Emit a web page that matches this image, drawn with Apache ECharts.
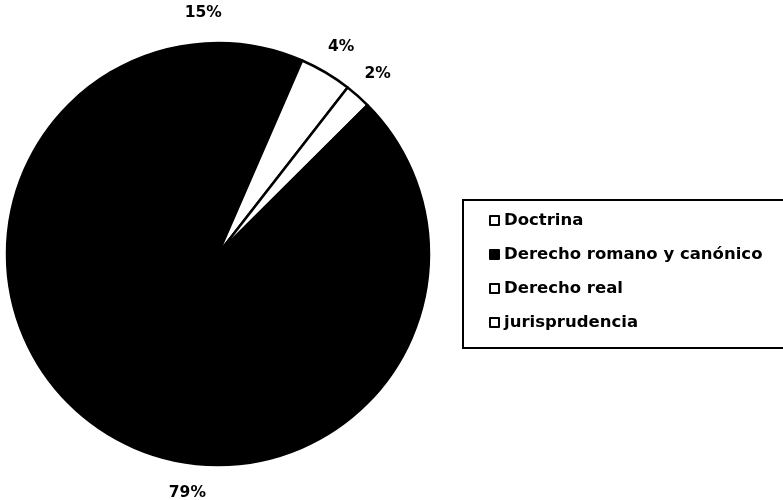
<!DOCTYPE html>
<html>
<head>
<meta charset="utf-8">
<script src="https://cdn.jsdelivr.net/npm/echarts@6/dist/echarts.min.js"></script>
<style>
  html, body { margin: 0; padding: 0; background: #fff; }
  #chart { width: 783px; height: 500px; }
</style>
</head>
<body>
<div id="chart"></div>
<script>
// Slices in clockwise drawing order
const sliceNames = ['Doctrina', 'Derecho real', 'jurisprudencia', 'Derecho romano y canónico'];
const sliceValues = [15, 4, 2, 79];
const sliceColors = ['#000000', '#ffffff', '#ffffff', '#000000'];
// Legend order and icon fills as shown in the legend box
const legendNames = ['Doctrina', 'Derecho romano y canónico', 'Derecho real', 'jurisprudencia'];
const legendFills = ['#ffffff', '#000000', '#ffffff', '#ffffff'];

const pieData = sliceNames.map((n, i) => ({
  name: n, value: sliceValues[i],
  itemStyle: { color: sliceColors[i] }
}));
const labelData = sliceNames.map((n, i) => ({ name: n, value: sliceValues[i] }));

const chart = echarts.init(document.getElementById('chart'), null, { renderer: 'canvas' });
chart.setOption({
  animation: false,
  backgroundColor: '#ffffff',
  legend: {
    orient: 'vertical',
    left: 463,
    top: 200,
    padding: [12, 60, 17, 26],
    borderColor: '#000',
    borderWidth: 2,
    itemWidth: 9,
    itemHeight: 9,
    itemGap: 17,
    icon: 'rect',
    selectedMode: false,
    textStyle: {
      fontFamily: 'DejaVu Sans',
      fontWeight: 'bold',
      fontSize: 16.5,
      lineHeight: 16,
      color: '#000'
    },
    data: legendNames.map((n, i) => ({
      name: n,
      itemStyle: { color: legendFills[i], borderColor: '#000', borderWidth: 2 }
    }))
  },
  series: [
    {
      type: 'pie',
      center: [218, 254],
      radius: [0, 211],
      startAngle: 120.5,
      clockwise: true,
      silent: true,
      label: { show: false },
      labelLine: { show: false },
      itemStyle: { borderColor: '#000', borderWidth: 2.5 },
      data: pieData
    },
    {
      type: 'pie',
      center: [218, 254],
      radius: [226, 250],
      startAngle: 120.5,
      clockwise: true,
      silent: true,
      legendHoverLink: false,
      itemStyle: { color: 'rgba(0,0,0,0)', borderWidth: 0 },
      label: {
        show: true,
        position: 'inside',
        formatter: p => Math.round(p.percent) + '%',
        fontFamily: 'DejaVu Sans',
        fontWeight: 'bold',
        fontSize: 15.5,
        color: '#000'
      },
      labelLine: { show: false },
      data: labelData
    }
  ]
});
</script>
</body>
</html>
